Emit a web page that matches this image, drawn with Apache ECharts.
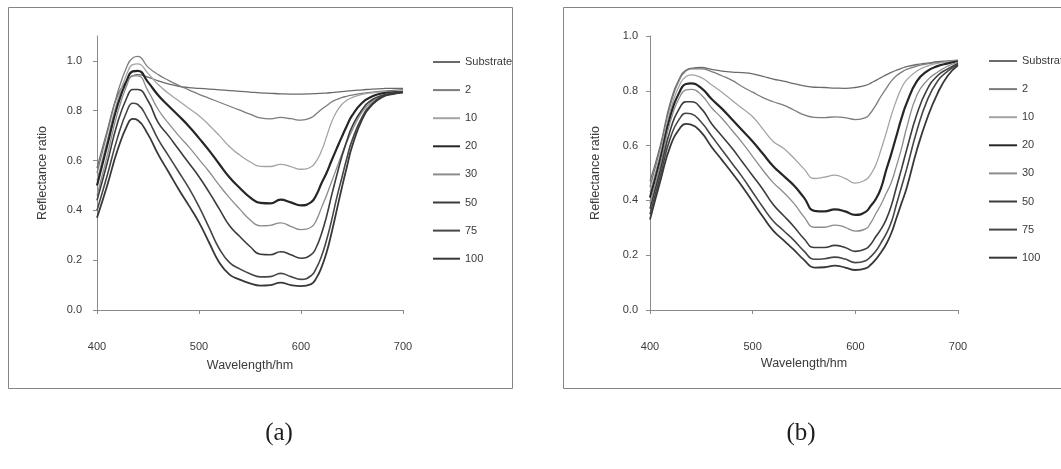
<!DOCTYPE html>
<html>
<head>
<meta charset="utf-8">
<script src="https://cdn.jsdelivr.net/npm/echarts@6/dist/echarts.min.js"></script>
<style>
  html, body { margin: 0; padding: 0; background: #ffffff; }
  #chart { width: 1061px; height: 469px; }
</style>
</head>
<body>
<div id="chart"></div>
<script>
// Wavelength sampling points (nm), shared by both panels
const wavelengths = [400, 410, 420, 430, 435, 440, 450, 460, 470, 480, 490, 500, 510, 520, 530, 540, 550, 560,
  570, 580, 590, 600, 610, 615, 620, 625, 630, 635, 640, 645, 650, 660, 670, 680, 690, 700];

const seriesNames = ['Substrate', '2', '10', '20', '30', '50', '75', '100'];

// Panel (a) reflectance ratios
const aSubstrate = [0.57, 0.72, 0.86, 0.925, 0.94, 0.945, 0.935, 0.92, 0.908, 0.898, 0.893, 0.89, 0.887, 0.884, 0.881, 0.878, 0.875, 0.872, 0.870, 0.868, 0.867, 0.867, 0.868, 0.869, 0.870, 0.871, 0.873, 0.875, 0.877, 0.879, 0.881, 0.884, 0.887, 0.889, 0.890, 0.890];
const a2   = [0.55, 0.71, 0.87, 0.985, 1.012, 1.018, 0.975, 0.945, 0.922, 0.902, 0.884, 0.866, 0.85, 0.834, 0.818, 0.802, 0.786, 0.771, 0.767, 0.773, 0.768, 0.762, 0.772, 0.788, 0.805, 0.82, 0.835, 0.845, 0.853, 0.858, 0.863, 0.87, 0.875, 0.879, 0.882, 0.885];
const a10  = [0.52, 0.68, 0.84, 0.955, 0.985, 0.988, 0.95, 0.905, 0.87, 0.84, 0.81, 0.78, 0.742, 0.70, 0.655, 0.622, 0.595, 0.577, 0.576, 0.585, 0.576, 0.565, 0.575, 0.598, 0.638, 0.695, 0.755, 0.797, 0.825, 0.842, 0.853, 0.866, 0.872, 0.875, 0.876, 0.877];
const a20  = [0.50, 0.66, 0.82, 0.93, 0.958, 0.96, 0.915, 0.862, 0.82, 0.78, 0.738, 0.69, 0.64, 0.585, 0.532, 0.49, 0.452, 0.43, 0.428, 0.443, 0.432, 0.42, 0.433, 0.462, 0.508, 0.55, 0.60, 0.648, 0.695, 0.74, 0.78, 0.832, 0.858, 0.87, 0.874, 0.876];
const a30  = [0.46, 0.62, 0.79, 0.91, 0.94, 0.94, 0.88, 0.805, 0.75, 0.70, 0.655, 0.605, 0.555, 0.50, 0.45, 0.405, 0.362, 0.338, 0.34, 0.35, 0.336, 0.323, 0.333, 0.36, 0.41, 0.46, 0.515, 0.57, 0.625, 0.675, 0.72, 0.795, 0.838, 0.862, 0.871, 0.875];
const a50  = [0.44, 0.59, 0.75, 0.86, 0.885, 0.885, 0.84, 0.752, 0.70, 0.645, 0.59, 0.535, 0.472, 0.405, 0.338, 0.295, 0.255, 0.224, 0.222, 0.234, 0.222, 0.208, 0.222, 0.252, 0.305, 0.375, 0.46, 0.54, 0.615, 0.68, 0.735, 0.805, 0.845, 0.862, 0.87, 0.875];
const a75  = [0.40, 0.54, 0.69, 0.805, 0.83, 0.825, 0.765, 0.685, 0.62, 0.555, 0.49, 0.415, 0.33, 0.245, 0.19, 0.165, 0.146, 0.133, 0.134, 0.147, 0.134, 0.123, 0.138, 0.168, 0.215, 0.28, 0.36, 0.45, 0.53, 0.61, 0.68, 0.775, 0.83, 0.858, 0.868, 0.875];
const a100 = [0.37, 0.50, 0.64, 0.745, 0.767, 0.762, 0.705, 0.625, 0.555, 0.485, 0.42, 0.352, 0.27, 0.19, 0.142, 0.122, 0.107, 0.098, 0.10, 0.11, 0.10, 0.096, 0.104, 0.128, 0.17, 0.23, 0.31, 0.40, 0.49, 0.575, 0.655, 0.765, 0.825, 0.855, 0.867, 0.873];

// Panel (b) reflectance ratios
const bSubstrate = [0.47, 0.60, 0.76, 0.855, 0.875, 0.882, 0.885, 0.878, 0.872, 0.868, 0.866, 0.862, 0.853, 0.843, 0.835, 0.826, 0.818, 0.813, 0.812, 0.81, 0.809, 0.812, 0.82, 0.828, 0.838, 0.848, 0.858, 0.867, 0.875, 0.882, 0.888, 0.896, 0.901, 0.906, 0.909, 0.912];
const b2   = [0.45, 0.59, 0.75, 0.85, 0.872, 0.88, 0.88, 0.87, 0.855, 0.838, 0.815, 0.795, 0.775, 0.76, 0.748, 0.73, 0.712, 0.703, 0.702, 0.705, 0.702, 0.695, 0.702, 0.72, 0.748, 0.78, 0.808, 0.835, 0.855, 0.868, 0.878, 0.89, 0.898, 0.903, 0.907, 0.91];
const b10  = [0.43, 0.57, 0.73, 0.83, 0.852, 0.858, 0.848, 0.822, 0.795, 0.765, 0.735, 0.705, 0.66, 0.615, 0.59, 0.555, 0.515, 0.48, 0.485, 0.492, 0.48, 0.463, 0.475, 0.495, 0.53, 0.585, 0.645, 0.71, 0.765, 0.81, 0.84, 0.872, 0.89, 0.90, 0.906, 0.91];
const b20  = [0.41, 0.55, 0.71, 0.805, 0.825, 0.827, 0.81, 0.77, 0.735, 0.695, 0.655, 0.615, 0.57, 0.525, 0.49, 0.455, 0.41, 0.362, 0.36, 0.367, 0.36, 0.347, 0.358, 0.38, 0.405, 0.445, 0.51, 0.57, 0.635, 0.70, 0.755, 0.835, 0.872, 0.89, 0.9, 0.908];
const b30  = [0.39, 0.53, 0.69, 0.785, 0.803, 0.805, 0.785, 0.738, 0.70, 0.655, 0.61, 0.56, 0.51, 0.465, 0.43, 0.39, 0.34, 0.302, 0.302, 0.31, 0.302, 0.288, 0.296, 0.318, 0.352, 0.385, 0.425, 0.465, 0.525, 0.59, 0.665, 0.785, 0.838, 0.868, 0.89, 0.905];
const b50  = [0.37, 0.51, 0.66, 0.745, 0.76, 0.76, 0.735, 0.68, 0.635, 0.59, 0.54, 0.49, 0.44, 0.385, 0.345, 0.305, 0.26, 0.228, 0.228, 0.236, 0.228, 0.214, 0.223, 0.24, 0.268, 0.295, 0.33, 0.38, 0.448, 0.515, 0.585, 0.715, 0.805, 0.855, 0.88, 0.90];
const b75  = [0.35, 0.49, 0.63, 0.705, 0.718, 0.716, 0.685, 0.635, 0.585, 0.535, 0.485, 0.43, 0.375, 0.325, 0.29, 0.255, 0.215, 0.185, 0.187, 0.193, 0.186, 0.173, 0.18, 0.195, 0.215, 0.245, 0.278, 0.32, 0.385, 0.45, 0.515, 0.655, 0.765, 0.835, 0.872, 0.897];
const b100 = [0.33, 0.47, 0.60, 0.668, 0.679, 0.677, 0.648, 0.595, 0.548, 0.50, 0.45, 0.395, 0.34, 0.29, 0.255, 0.22, 0.183, 0.155, 0.156, 0.162, 0.155, 0.146, 0.152, 0.165, 0.185, 0.21, 0.24, 0.28, 0.335, 0.39, 0.445, 0.585, 0.70, 0.79, 0.855, 0.893];

// Tick values
const xTicks = [400, 500, 600, 700];
const yTicks = [0, 0.2, 0.4, 0.6, 0.8, 1.0];

const valuesA = [aSubstrate, a2, a10, a20, a30, a50, a75, a100];
const valuesB = [bSubstrate, b2, b10, b20, b30, b50, b75, b100];

// Grey shades and widths per series
const lineColors = ['#6a6a6a', '#7c7c7c', '#a4a4a4', '#262626', '#8c8c8c', '#3c3c3c', '#464646', '#383838'];
const lineWidths = [1.3, 1.3, 1.3, 2.2, 1.3, 1.6, 1.6, 1.8];

const FONT = '"Liberation Sans", Arial, sans-serif';
const TEXT = '#3a3a3a';
const AXIS = '#8a8a8a';

function xAxisFor(gridIndex, nameGap) {
  return {
    type: 'value', gridIndex: gridIndex,
    min: xTicks[0], max: xTicks[xTicks.length - 1], interval: 100,
    name: 'Wavelength/hm', nameLocation: 'middle', nameGap: nameGap,
    nameTextStyle: { fontSize: 12.5, color: TEXT, fontFamily: FONT },
    axisLine: { onZero: false, lineStyle: { color: AXIS, width: 1 } },
    axisTick: { show: true, length: 4, lineStyle: { color: AXIS } },
    axisLabel: { margin: 31, fontSize: 11, color: TEXT, fontFamily: FONT },
    splitLine: { show: false }
  };
}

function yAxisFor(gridIndex, max, labelMargin) {
  return {
    type: 'value', gridIndex: gridIndex, min: 0, max: max, interval: 0.2,
    name: 'Reflectance ratio', nameLocation: 'middle', nameGap: 48,
    nameTextStyle: { fontSize: 12.5, color: TEXT, fontFamily: FONT },
    axisLine: { show: true, onZero: false, lineStyle: { color: AXIS, width: 1 } },
    axisTick: { show: true, length: 4, lineStyle: { color: AXIS }, customValues: yTicks },
    axisLabel: {
      margin: labelMargin, fontSize: 11, color: TEXT, fontFamily: FONT,
      customValues: yTicks, formatter: function (v) { return v.toFixed(1); }
    },
    splitLine: { show: false }
  };
}

function buildSeries(values, axisIndex) {
  return values.map(function (vals, i) {
    return {
      name: seriesNames[i], type: 'line',
      xAxisIndex: axisIndex, yAxisIndex: axisIndex,
      data: wavelengths.map(function (w, k) { return [w, vals[k]]; }),
      symbol: 'none', smooth: 0.5,
      lineStyle: { color: lineColors[i], width: lineWidths[i] },
      itemStyle: { color: lineColors[i] },
      silent: true, animation: false
    };
  });
}

function legendFor(left, top, itemWidth) {
  return {
    data: seriesNames, orient: 'vertical', left: left, top: top,
    itemWidth: itemWidth, itemHeight: 14, itemGap: 14.1, padding: 0,
    selectedMode: false, itemStyle: { opacity: 0 },
    textStyle: { fontSize: 11, color: TEXT, fontFamily: FONT, lineHeight: 14 }
  };
}

const chart = echarts.init(document.getElementById('chart'), null, { renderer: 'canvas' });

chart.setOption({
  backgroundColor: '#ffffff',
  animation: false,
  grid: [
    { left: 97, top: 36, width: 306, height: 274 },
    { left: 650, top: 36, width: 308, height: 274 }
  ],
  xAxis: [xAxisFor(0, 49), xAxisFor(1, 45)],
  yAxis: [yAxisFor(0, 1.1, 15), yAxisFor(1, 1.0, 12)],
  legend: [legendFor(432, 55, 27), legendFor(988, 54, 28)],
  series: buildSeries(valuesA, 0).concat(buildSeries(valuesB, 1)),
  graphic: [
    { type: 'rect', silent: true, shape: { x: 8.5, y: 7.5, width: 504, height: 381 },
      style: { fill: 'none', stroke: '#858585', lineWidth: 1 } },
    { type: 'rect', silent: true, shape: { x: 563.5, y: 7.5, width: 520, height: 381 },
      style: { fill: 'none', stroke: '#858585', lineWidth: 1 } },
    { type: 'text', silent: true, x: 279, y: 433,
      style: { text: '(a)', fontSize: 25, fontFamily: '"Liberation Serif", "Times New Roman", serif',
               fill: '#1e1e1e', align: 'center', verticalAlign: 'middle' } },
    { type: 'text', silent: true, x: 801, y: 433,
      style: { text: '(b)', fontSize: 25, fontFamily: '"Liberation Serif", "Times New Roman", serif',
               fill: '#1e1e1e', align: 'center', verticalAlign: 'middle' } }
  ]
});
</script>
</body>
</html>
